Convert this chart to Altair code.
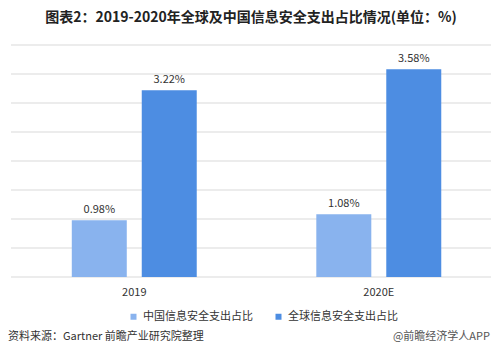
import altair as alt
import pandas as pd

years = ["2019", "2020E"]
series = ["中国信息安全支出占比", "全球信息安全支出占比"]
china = [0.98, 1.08]
world = [3.22, 3.58]
colors = ["#89b3ee", "#4d8de2"]
grid_values = [0, 0.5, 1, 1.5, 2, 2.5, 3, 3.5, 4]

title_text = "图表2：2019-2020年全球及中国信息安全支出占比情况(单位：%)"
source_text = "资料来源：Gartner 前瞻产业研究院整理"
brand_text = "@前瞻经济学人APP"

rows = []
for i, y in enumerate(years):
    rows.append({"year": y, "series": series[0], "value": china[i], "label": f"{china[i]:.2f}%"})
    rows.append({"year": y, "series": series[1], "value": world[i], "label": f"{world[i]:.2f}%"})
df = pd.DataFrame(rows)
grid_df = pd.DataFrame({"v": grid_values})
year_df = pd.DataFrame({"year": years})

FONT = "Noto Sans CJK SC"
W, H = 480, 232

yscale = alt.Scale(domain=[0, 4], nice=False)
xscale = alt.Scale(domain=years, paddingInner=0.489, paddingOuter=0.226, align=0.55)

grid = alt.Chart(grid_df).mark_rule(color="#d9d9d9", strokeWidth=1).encode(
    y=alt.Y("v:Q", scale=yscale, axis=None, title=None))

x_enc = alt.X("year:N", sort=years, title=None, scale=xscale, axis=None)
xoff = alt.XOffset("series:N", sort=series, scale=alt.Scale(paddingInner=0.214, paddingOuter=0))

bars = alt.Chart(df).mark_bar().encode(
    x=x_enc, xOffset=xoff, y=alt.Y("value:Q", scale=yscale, axis=None, title=None),
    color=alt.Color("series:N", sort=series, scale=alt.Scale(domain=series, range=colors),
                    legend=alt.Legend(title=None, orient="none", direction="horizontal",
                                      legendX=117, legendY=266, symbolType="square",
                                      symbolSize=36, symbolStrokeWidth=0, labelFont=FONT,
                                      labelFontSize=11, labelColor="#333333", labelOffset=4,
                                      columnPadding=20)),
)

labels = alt.Chart(df).mark_text(baseline="bottom", dy=-5, font=FONT, fontSize=11,
                                 color="#333333").encode(
    x=alt.X("year:N", sort=years, title=None, axis=None),
    xOffset=alt.XOffset("series:N", sort=series),
    y=alt.Y("value:Q", axis=None, title=None), text="label:N")

xlabels = alt.Chart(year_df).mark_text(baseline="middle", font=FONT, fontSize=11,
                                       color="#333333").encode(
    x=alt.X("year:N", sort=years, title=None, axis=None),
    y=alt.value(H + 16), text="year:N")

foot_df = pd.DataFrame({"t": [source_text]})
source = alt.Chart(foot_df).mark_text(align="left", baseline="middle", font=FONT, fontSize=11,
                                       color="#333333").encode(
    x=alt.value(-3), y=alt.value(H + 60), text="t:N")
brand_df = pd.DataFrame({"t": [brand_text]})
brand = alt.Chart(brand_df).mark_text(align="right", baseline="middle", font=FONT, fontSize=11,
                                      color="#555555").encode(
    x=alt.value(W - 1), y=alt.value(H + 60), text="t:N")

chart = alt.layer(grid, bars, labels, xlabels, source, brand).properties(
    width=W, height=H,
    background="white",
    title=alt.TitleParams(title_text, font=FONT, fontSize=14, fontWeight="bold",
                          color="#222222", anchor="middle", offset=20),
    autosize=alt.AutoSizeParams(type="none"),
    padding={"left": 3, "top": 37, "right": 0, "bottom": 77},
).configure_view(strokeWidth=0, stroke="transparent")

chart.save("out.html", embed_options={"renderer": "svg", "actions": False})
